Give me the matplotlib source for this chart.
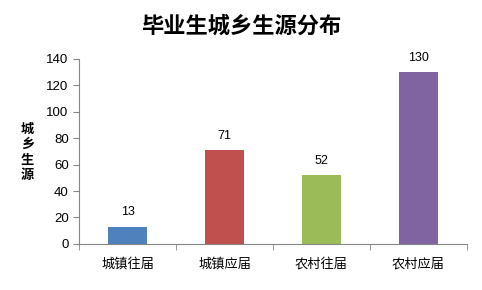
import matplotlib.pyplot as plt

plt.rcParams['font.family'] = ['Noto Sans CJK SC', 'DejaVu Sans']

categories = ['城镇往届', '城镇应届', '农村往届', '农村应届']
values = [13, 71, 52, 130]
colors = ['#4F81BD', '#C0504D', '#9BBB59', '#8064A2']

fig = plt.figure(figsize=(4.82, 2.9), dpi=100)
ax = fig.add_axes([0.164, 0.159, 0.805, 0.638])

x = range(len(categories))
bars = ax.bar(x, values, width=0.4, color=colors)
for b, v in zip(bars, values):
    ax.annotate(str(v), (b.get_x() + b.get_width() / 2, v), xytext=(0, 6),
                textcoords='offset points', ha='center', va='bottom',
                fontsize=9, family='Liberation Sans')

ax.set_xlim(-0.5, 3.5)
ax.set_ylim(0, 140)
ax.set_yticks(range(0, 141, 20))
ax.set_xticks(x)
ax.set_xticklabels(categories, fontsize=9.5)
ax.set_xticks([-0.5, 0.5, 1.5, 2.5, 3.5], minor=True)
ax.tick_params(axis='x', which='major', length=0, pad=10)
ax.tick_params(axis='x', which='minor', length=4, color='#868686')
ax.tick_params(axis='y', length=4, color='#868686', labelsize=9.5)
for lbl in ax.get_yticklabels():
    lbl.set_family('Liberation Sans')

for s in ['top', 'right']:
    ax.spines[s].set_visible(False)
for s in ['left', 'bottom']:
    ax.spines[s].set_color('#868686')

fig.text(0.5, 0.91, '毕业生城乡生源分布', ha='center', va='center',
         fontsize=16, fontweight='bold')
fig.text(0.057, 0.476, '城\n乡\n生\n源', ha='center', va='center',
         fontsize=9.5, fontweight='bold', linespacing=1.15)

fig.savefig('out.png', dpi=100)
